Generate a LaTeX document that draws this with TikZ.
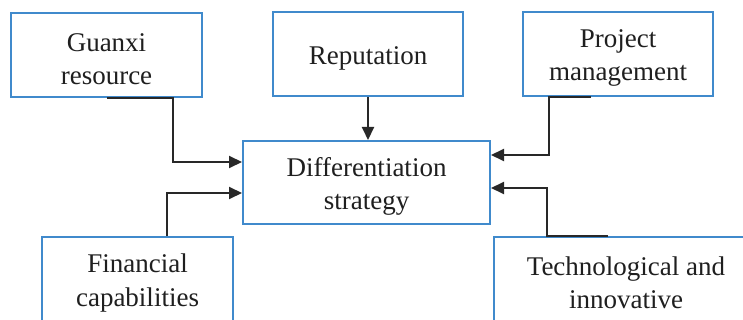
\documentclass[tikz,border=0pt]{standalone}
\usepackage{fontspec}
\setmainfont{Liberation Serif}
\usetikzlibrary{arrows.meta,calc}
\definecolor{boxblue}{RGB}{64,138,204}
\definecolor{linkgray}{RGB}{40,40,40}
\begin{document}
\begin{tikzpicture}[x=1pt,y=-1pt,
  factor/.style={draw=boxblue,line width=2pt,fill=white,inner sep=0pt,
    minimum height=84pt},
  caption/.style={align=center,text=black!88,inner sep=0pt,yshift=-4pt,
    font=\fontsize{27}{33.5}\selectfont},
  link/.style={draw=linkgray,line width=2pt,-{Triangle[length=13pt,width=12pt]}}]
  \useasboundingbox (0,0) rectangle (743,320);
  \clip (0,0) rectangle (743,320);

  % factor boxes, each with its caption set slightly below centre
  \node[factor,minimum width=191pt,label={[caption]center:Guanxi\\resource}] (g) at (106.5,55) {};
  \node[factor,minimum width=190pt,label={[caption]center:Reputation}] (r) at (368,54.5) {};
  \node[factor,minimum width=190pt,label={[caption]center:Project\\management}] (p) at (618,54) {};
  \node[factor,minimum width=247pt,minimum height=83pt,label={[caption]center:Differentiation\\strategy}] (d) at (366.5,182.5) {};
  \node[factor,minimum width=191pt,label={[caption]center:Financial\\capabilities}] (f) at (137.5,279) {};
  \node[factor,minimum width=264pt,label={[caption]center:Technological and\\innovative}] (t) at (626,279) {};

  % connectors into the strategy box
  \draw[link] (g.south) -- ++(66,0) |- ($(d.west)+(0,-20.5)$);
  \draw[link] (r.south) -- (r.south |- d.north);
  \draw[link] ($(p.south)+(-27,0)$) -- ++(-42,0) |- ($(d.east)+(0,-27.5)$);
  \draw[link] ($(f.north)+(29.5,0)$) |- ($(d.west)+(0,10.5)$);
  \draw[link] ($(t.north)+(-18,0)$) -- ++(-61,0) |- ($(d.east)+(0,5.5)$);
\end{tikzpicture}
\end{document}
